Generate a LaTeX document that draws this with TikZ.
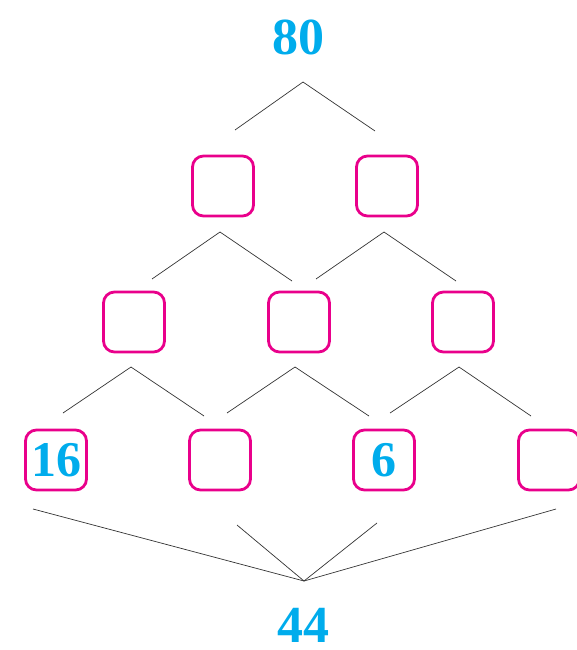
\documentclass[tikz,border=0pt]{standalone}
\usepackage{fontspec}
\setmainfont{Liberation Serif}
\definecolor{numcyan}{RGB}{0,172,236}
\definecolor{boxpink}{RGB}{233,0,139}
\tikzset{
  slot/.style={draw=boxpink, line width=2.8pt, rounded corners=11pt,
    minimum width=61pt, minimum height=60pt, inner sep=0pt,
    text=numcyan, font=\fontsize{50}{50}\selectfont\bfseries},
  total/.style={text=numcyan, inner sep=0pt, font=\fontsize{52}{52}\selectfont\bfseries},
  twig/.style={line width=0.7pt, black!80}
}
\begin{document}
\begin{tikzpicture}[x=1pt,y=-1pt]
  \useasboundingbox (0,0) rectangle (576,650);

  \node[total] (top) at (298,37) {80};
  \node[total] (bottom) at (303,625) {44};

  % first row
  \node[slot] (b1) at (223,186) {};
  \node[slot] (b2) at (387,186) {};
  % second row
  \node[slot] (c1) at (134,322) {};
  \node[slot] (c2) at (299,322) {};
  \node[slot] (c3) at (463,322) {};
  % third row
  \node[slot] (d1) at (56,460) {16};
  \node[slot] (d2) at (220,460) {};
  \node[slot] (d3) at (384,460) {6};
  \node[slot] (d4) at (549,460) {};

  % forks
  \coordinate (ta) at (303,82);  \coordinate (tl) at (235,130); \coordinate (tr) at (375,131);
  \coordinate (pa) at (220,232); \coordinate (pl) at (152,279); \coordinate (pr) at (292,281);
  \coordinate (qa) at (384,232); \coordinate (ql) at (316,279); \coordinate (qr) at (456,281);
  \coordinate (ra) at (131,367); \coordinate (rl) at (63,413);  \coordinate (rr) at (204,416);
  \coordinate (sa) at (295,367); \coordinate (sl) at (227,413); \coordinate (sr) at (369,416);
  \coordinate (ua) at (459,367); \coordinate (ul) at (390,413); \coordinate (ur) at (531,416);

  \foreach \f in {t,p,q,r,s,u}
    \draw[twig] (\f l) -- (\f a) -- (\f r);

  % bottom sum
  \coordinate (ba) at (304,581);
  \coordinate (e1) at (33,509);
  \coordinate (e2) at (237,525);
  \coordinate (e3) at (377,523);
  \coordinate (e4) at (556,509);
  \foreach \e in {e1,e2,e3,e4}
    \draw[twig] (\e) -- (ba);
\end{tikzpicture}
\end{document}
